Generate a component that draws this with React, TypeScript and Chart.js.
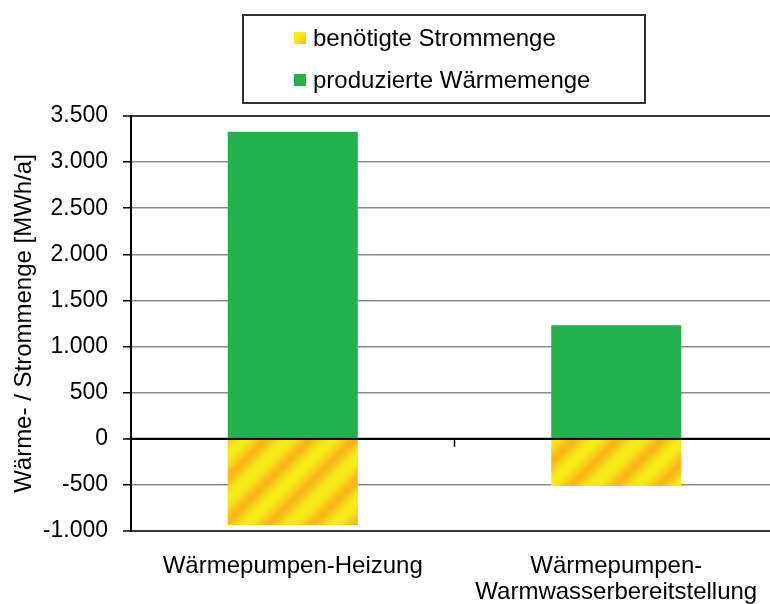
import React, { useEffect, useRef } from 'react';
import { Chart, registerables } from 'chart.js';

Chart.register(...registerables);

// ---------- data ----------
const categories: (string | string[])[] = [
  'Wärmepumpen-Heizung',
  ['Wärmepumpen-', 'Warmwasserbereitstellung'],
];
const stromLabel = 'benötigte Strommenge';
const waermeLabel = 'produzierte Wärmemenge';
const stromValues = [-935, -510];
const waermeValues = [3330, 1230];
const yMin = -1000;
const yMax = 3500;
const yStep = 500;
const yTitle = 'Wärme- / Strommenge [MWh/a]';

// ---------- styles ----------
const FONT = '"Liberation Sans", Arial, Helvetica, sans-serif';
const GREEN = '#22b14c';

function fmt(v: number): string {
  const s = Math.abs(v).toString().replace(/\B(?=(\d{3})+(?!\d))/g, '.');
  return (v < 0 ? '-' : '') + s;
}

function makeStripePattern(ctx: CanvasRenderingContext2D): CanvasPattern | string {
  const P = 44;
  const c = document.createElement('canvas');
  c.width = P;
  c.height = P;
  const cx = c.getContext('2d');
  if (!cx) return '#f5e616';
  const img = cx.createImageData(P, P);
  const yel = [246, 234, 24];
  const ora = [249, 184, 22];
  for (let y = 0; y < P; y++) {
    for (let x = 0; x < P; x++) {
      const t = (1 + Math.cos((2 * Math.PI * (x + y)) / P)) / 2;
      const k = Math.pow(t, 1.4);
      const i = (y * P + x) * 4;
      img.data[i] = Math.round(yel[0] + (ora[0] - yel[0]) * k);
      img.data[i + 1] = Math.round(yel[1] + (ora[1] - yel[1]) * k);
      img.data[i + 2] = Math.round(yel[2] + (ora[2] - yel[2]) * k);
      img.data[i + 3] = 255;
    }
  }
  cx.putImageData(img, 0, 0);
  return ctx.createPattern(c, 'repeat') || '#f5e616';
}

const zeroLinePlugin = {
  id: 'zeroLine',
  afterDatasetsDraw(chart: any) {
    const { ctx, chartArea, scales } = chart;
    const y0 = scales.y.getPixelForValue(0);
    ctx.save();
    ctx.strokeStyle = '#000';
    ctx.lineWidth = 2;
    ctx.beginPath();
    ctx.moveTo(chartArea.left, y0);
    ctx.lineTo(chartArea.right, y0);
    ctx.stroke();
    // tick marks between categories on the zero axis
    ctx.lineWidth = 1.5;
    const n = chart.data.labels.length;
    for (let i = 0; i < n - 1; i++) {
      const xb = (scales.x.getPixelForValue(i) + scales.x.getPixelForValue(i + 1)) / 2;
      ctx.beginPath();
      ctx.moveTo(xb, y0);
      ctx.lineTo(xb, y0 + 8);
      ctx.stroke();
    }
    ctx.restore();
  },
};

const boxLegendPlugin = {
  id: 'boxLegend',
  afterDraw(chart: any, _args: any, opts: any) {
    const { ctx } = chart;
    ctx.save();
    ctx.strokeStyle = '#333';
    ctx.lineWidth = 2;
    ctx.strokeRect(opts.left, opts.top, opts.width, opts.height);
    ctx.font = `${opts.fontSize}px ${FONT}`;
    ctx.textBaseline = 'middle';
    ctx.textAlign = 'left';
    chart.data.datasets.forEach((ds: any, i: number) => {
      const cy = opts.rowY[i];
      ctx.fillStyle = ds.backgroundColor;
      ctx.fillRect(opts.markerX, cy - opts.markerSize / 2, opts.markerSize, opts.markerSize);
      ctx.fillStyle = '#000';
      ctx.fillText(ds.label, opts.textX, cy + 1);
    });
    ctx.restore();
  },
};

export default function App() {
  const ref = useRef<HTMLCanvasElement | null>(null);

  useEffect(() => {
    const canvas = ref.current;
    if (!canvas) return;
    const ctx = canvas.getContext('2d');
    if (!ctx) return;
    const stripes = makeStripePattern(ctx);

    const chart = new Chart(canvas, {
      type: 'bar',
      data: {
        labels: categories as any,
        datasets: [
          {
            label: stromLabel,
            data: stromValues,
            backgroundColor: stripes as any,
            borderWidth: 0,
            barPercentage: 0.402,
            categoryPercentage: 1,
          },
          {
            label: waermeLabel,
            data: waermeValues,
            backgroundColor: GREEN,
            borderWidth: 0,
            barPercentage: 0.402,
            categoryPercentage: 1,
          },
        ],
      },
      options: {
        responsive: false,
        animation: false,
        devicePixelRatio: 1,
        layout: { padding: { top: 116, left: 0, right: 12, bottom: 0 } },
        plugins: {
          legend: { display: false },
          tooltip: { enabled: false },
          boxLegend: {
            left: 243,
            top: 15,
            width: 402,
            height: 88,
            markerX: 294,
            markerSize: 12,
            textX: 313,
            rowY: [38, 80],
            fontSize: 24,
          },
        } as any,
        scales: {
          x: {
            stacked: true,
            grid: { display: false, drawTicks: false },
            border: { display: false },
            ticks: {
              color: '#000',
              font: { family: FONT, size: 24, lineHeight: 1.08 },
              padding: 22,
              maxRotation: 0,
              autoSkip: false,
            },
            afterFit(scale: any) {
              scale.height = 73;
            },
          },
          y: {
            stacked: true,
            min: yMin,
            max: yMax,
            ticks: {
              stepSize: yStep,
              color: '#000',
              font: { family: FONT, size: 23 },
              padding: 15,
              callback: (v: any) => fmt(Number(v)),
            },
            grid: {
              drawTicks: true,
              tickLength: 8,
              tickColor: '#000',
              tickWidth: 1.5,
              color: (c: any) => {
                const v = c.tick && c.tick.value;
                if (v === 0) return '#000';
                if (v === yMin || v === yMax) return '#3a3a3a';
                return '#8c8c8c';
              },
              lineWidth: (c: any) => {
                const v = c.tick && c.tick.value;
                if (v === 0 || v === yMin || v === yMax) return 2;
                return 1.5;
              },
            },
            border: { display: true, color: '#000', width: 2 },
            title: {
              display: true,
              text: yTitle,
              color: '#000',
              font: { family: FONT, size: 24 },
              padding: { top: 10, bottom: 0 },
            },
            afterFit(scale: any) {
              scale.width = 131;
            },
          },
        },
      },
      plugins: [zeroLinePlugin, boxLegendPlugin],
    });

    return () => chart.destroy();
  }, []);

  return (
    <div
      style={{
        position: 'absolute',
        left: 0,
        top: 0,
        width: 770,
        height: 604,
        overflow: 'hidden',
        background: '#fff',
      }}
    >
      <canvas ref={ref} width={790} height={604} style={{ width: 790, height: 604, display: 'block' }} />
    </div>
  );
}
